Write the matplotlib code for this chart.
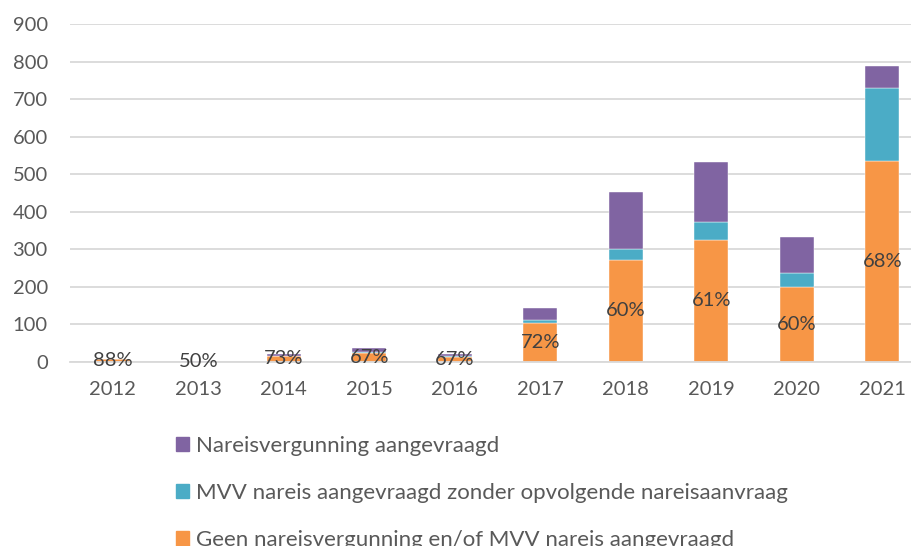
import matplotlib.pyplot as plt
import matplotlib.patches as mpatches

years = ['2012', '2013', '2014', '2015', '2016', '2017', '2018', '2019', '2020', '2021']
geen = [7, 1, 16, 24, 14, 105, 272, 325, 200, 535]
mvv = [0, 0, 0, 3, 1, 7, 30, 47, 36, 195]
nareis = [1, 1, 6, 9, 6, 33, 151, 160, 97, 58]
pct_labels = ['88%', '50%', '73%', '67%', '67%', '72%', '60%', '61%', '60%', '68%']

labels = ['Nareisvergunning aangevraagd',
          'MVV nareis aangevraagd zonder opvolgende nareisaanvraag',
          'Geen nareisvergunning en/of MVV nareis aangevraagd']
c_purple = '#8064A2'
c_cyan = '#4BACC6'
c_orange = '#F79646'

plt.rcParams['font.family'] = ['Lato', 'DejaVu Sans']

fig = plt.figure(figsize=(9.12, 5.46), dpi=100)
ax = fig.add_axes([70 / 912, 184 / 546, 855 / 912, 338 / 546])

x = list(range(len(years)))
w = 0.4
ax.bar(x, geen, w, color=c_orange, edgecolor='white', linewidth=0.3, zorder=2)
bottom2 = geen
ax.bar(x, mvv, w, bottom=bottom2, color=c_cyan, edgecolor='white', linewidth=0.3, zorder=2)
bottom3 = [g + m for g, m in zip(geen, mvv)]
ax.bar(x, nareis, w, bottom=bottom3, color=c_purple, edgecolor='white', linewidth=0.3, zorder=2)

for i, lab in enumerate(pct_labels):
    ax.text(x[i], geen[i] / 2, lab, ha='center', va='center',
            fontsize=14.5, color='#404040', zorder=3)

ax.set_xlim(-0.5, len(years) - 0.5)
ax.set_ylim(0, 900)
ax.set_yticks(range(0, 1000, 100))
ax.set_xticks(x)
ax.set_xticklabels(years)
ax.yaxis.grid(True, color='#D9D9D9', linewidth=1.3, zorder=0)
ax.set_axisbelow(True)
for s in ['top', 'right', 'left']:
    ax.spines[s].set_visible(False)
ax.spines['bottom'].set_color('#D9D9D9')
ax.spines['bottom'].set_linewidth(1.3)
ax.tick_params(axis='both', length=0, labelsize=14.5, colors='#595959')
ax.tick_params(axis='x', pad=14)
ax.tick_params(axis='y', pad=16)

handles = [mpatches.Patch(color=c_purple), mpatches.Patch(color=c_cyan),
           mpatches.Patch(color=c_orange)]
leg = fig.legend(handles, labels, loc='upper left', bbox_to_anchor=(165 / 912, 1 - 425 / 546),
                 frameon=False, fontsize=16, labelspacing=1.22, handlelength=0.6,
                 handleheight=0.6, handletextpad=0.3, labelcolor='#595959',
                 borderpad=0)

fig.savefig('out.png', dpi=100)
